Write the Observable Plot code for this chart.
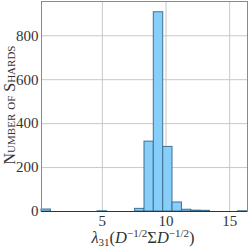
<!DOCTYPE html>
<html><head><meta charset="utf-8">
<script src="https://cdn.jsdelivr.net/npm/d3@7"></script>
<script src="https://cdn.jsdelivr.net/npm/@observablehq/plot@0.6"></script>
<style>
body{margin:0;background:#fff;}
svg{font-family:"Liberation Serif",serif;}
</style></head>
<body><div id="chart"></div>
<script>
const binEdges = [0.22,0.96,1.69,2.43,3.16,3.90,4.63,5.37,6.10,6.84,7.57,8.31,9.04,9.78,10.51,11.25,11.98,12.72,13.45,14.19,14.92,15.66,16.40];
const counts   = [9,0,0,0,0,0,1,0,0,0,12,318,907,294,41,8,4,3,0,0,0,1];
const xTicks = [5,10,15];
const yTicks = [0,200,400,600,800];
const yLabel = "Number of Shards";

const bins = counts.map((c,i)=>({x1:binEdges[i], x2:binEdges[i+1], count:c})).filter(d=>d.count>0);

const plot = Plot.plot({
  width:249, height:249,
  marginLeft:41, marginRight:2, marginTop:1, marginBottom:38,
  style:{fontFamily:"Liberation Serif, serif", background:"#fff"},
  x:{domain:[binEdges[0], binEdges[binEdges.length-1]]},
  y:{domain:[0,956]},
  marks:[
    Plot.gridX(xTicks,{stroke:"#c8c8c8", strokeOpacity:1, strokeWidth:1}),
    Plot.gridY(yTicks,{stroke:"#c8c8c8", strokeOpacity:1, strokeWidth:1}),
    Plot.rectY(bins,{x1:"x1", x2:"x2", y:"count", fill:"#87cefa", stroke:"#3f6f90", strokeWidth:1}),
    Plot.frame({stroke:"#8a8a8a"}),
    Plot.ruleY([0],{stroke:"#333"}),
    Plot.axisX(xTicks,{tickSize:0, tickPadding:4, fontSize:15, label:null, fill:"#333"}),
    Plot.axisY(yTicks,{tickSize:0, tickPadding:3, fontSize:15, label:null, fill:"#333"})
  ]
});
const svg = d3.select(plot);
svg.append("text")
  .attr("transform","translate(15,105) rotate(-90)")
  .attr("text-anchor","middle")
  .attr("font-size",16)
  .attr("fill","#333")
  .style("font-variant","small-caps")
  .text(yLabel);
const xl = svg.append("text")
  .attr("x",143).attr("y",243)
  .attr("text-anchor","middle")
  .attr("font-size",16.5)
  .attr("fill","#333");
xl.append("tspan").attr("font-style","italic").text("λ");
xl.append("tspan").attr("font-size",11).attr("dy",3).text("31");
xl.append("tspan").attr("dy",-3).text("(");
xl.append("tspan").attr("font-style","italic").text("D");
xl.append("tspan").attr("font-size",11).attr("dy",-6.5).text("−1/2");
xl.append("tspan").attr("dy",6.5).text("Σ");
xl.append("tspan").attr("font-style","italic").text("D");
xl.append("tspan").attr("font-size",11).attr("dy",-6.5).text("−1/2");
xl.append("tspan").attr("dy",6.5).text(")");
document.getElementById("chart").appendChild(plot);
</script></body></html>
